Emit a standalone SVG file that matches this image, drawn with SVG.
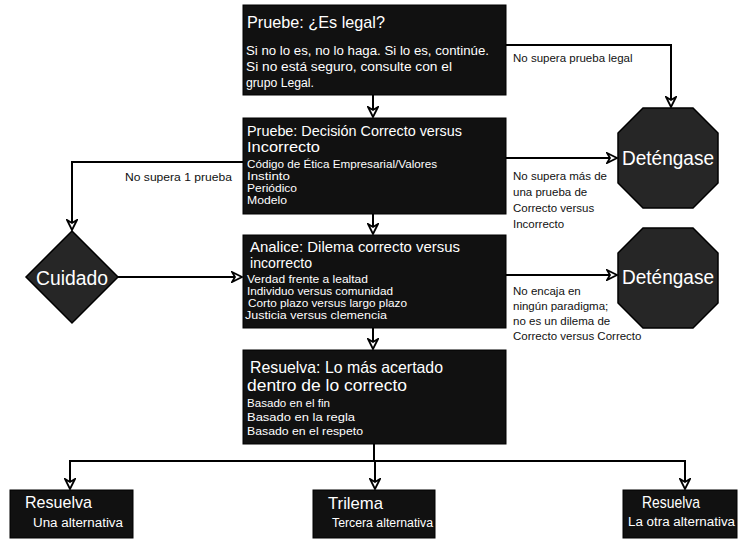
<svg xmlns="http://www.w3.org/2000/svg" width="738" height="540" viewBox="0 0 738 540">
<style>
.box{fill:#111;stroke:#000;stroke-width:1}
.sign{fill:#262626;stroke:#000;stroke-width:1.5}
.t{font-family:"Liberation Sans",Arial,sans-serif;fill:#fff}
.h{font-size:15px}
.hb{font-size:16.5px}
.s{font-size:10.5px}
.s1{font-size:12.5px}
.sw{font-size:20px}
.lab{font-family:"Liberation Sans",Arial,sans-serif;font-size:11.5px;fill:#111}
.c{fill:none;stroke:#000;stroke-width:2}
</style>
<defs>
<marker id="ah" viewBox="0 0 12 12" refX="11" refY="6" markerWidth="12" markerHeight="12" markerUnits="userSpaceOnUse" orient="auto">
<path d="M1,1 L11,6 L1,11 L4,6 Z" fill="#fff" stroke="#000" stroke-width="1.8"/>
</marker>
</defs>
<g id="connectors">
<line class="c" x1="373" y1="95" x2="373" y2="117" marker-end="url(#ah)"/>
<line class="c" x1="373" y1="214" x2="373" y2="234" marker-end="url(#ah)"/>
<line class="c" x1="373" y1="328" x2="373" y2="349" marker-end="url(#ah)"/>
<polyline class="c" points="506,45 671,45 671,107" marker-end="url(#ah)"/>
<line class="c" x1="506" y1="158" x2="617" y2="158" marker-end="url(#ah)"/>
<line class="c" x1="506" y1="275" x2="617" y2="275" marker-end="url(#ah)"/>
<polyline class="c" points="243,162 72,162 72,230" marker-end="url(#ah)"/>
<line class="c" x1="118" y1="277" x2="242" y2="277" marker-end="url(#ah)"/>
<line class="c" x1="374" y1="444" x2="374" y2="461"/>
<polyline class="c" points="70,461 685,461 685,489" marker-end="url(#ah)"/>
<line class="c" x1="70" y1="460" x2="70" y2="489" marker-end="url(#ah)"/>
<line class="c" x1="375" y1="461" x2="375" y2="489" marker-end="url(#ah)"/>
<text class="lab" x="513" y="62">No supera prueba legal</text>
<text class="lab" x="125" y="181" textLength="107" lengthAdjust="spacingAndGlyphs">No supera 1 prueba</text>
<text class="lab" x="513" y="180">No supera más de</text>
<text class="lab" x="513" y="196">una prueba de</text>
<text class="lab" x="513" y="212">Correcto versus</text>
<text class="lab" x="513" y="228">Incorrecto</text>
<text class="lab" x="513" y="295">No encaja en</text>
<text class="lab" x="513" y="310">ningún paradigma;</text>
<text class="lab" x="513" y="325">no es un dilema de</text>
<text class="lab" x="513" y="340">Correcto versus Correcto</text>
</g>
<g id="legal">
<rect class="box" x="243" y="5" width="263" height="90"/>
<text class="t" x="247" y="28" font-size="17" textLength="138" lengthAdjust="spacingAndGlyphs">Pruebe: ¿Es legal?</text>
<text class="t s1" x="246" y="55" textLength="243" lengthAdjust="spacingAndGlyphs">Si no lo es, no lo haga. Si lo es, continúe.</text>
<text class="t s1" x="246" y="71" textLength="206" lengthAdjust="spacingAndGlyphs">Si no está seguro, consulte con el</text>
<text class="t s1" x="246" y="87" textLength="68" lengthAdjust="spacingAndGlyphs">grupo Legal.</text>
</g>
<g id="prueba">
<rect class="box" x="243" y="118" width="263" height="96"/>
<text class="t h" x="247" y="136" textLength="215" lengthAdjust="spacingAndGlyphs">Pruebe: Decisión Correcto versus</text>
<text class="t h" x="247" y="152" textLength="73" lengthAdjust="spacingAndGlyphs">Incorrecto</text>
<text class="t s" x="247" y="168" textLength="190" lengthAdjust="spacingAndGlyphs">Código de Ética Empresarial/Valores</text>
<text class="t s" x="247" y="180" textLength="43" lengthAdjust="spacingAndGlyphs">Instinto</text>
<text class="t s" x="247" y="192" textLength="50" lengthAdjust="spacingAndGlyphs">Periódico</text>
<text class="t s" x="247" y="204" textLength="40" lengthAdjust="spacingAndGlyphs">Modelo</text>
</g>
<g id="analice">
<rect class="box" x="243" y="235" width="263" height="93"/>
<text class="t h" x="250" y="252" textLength="210" lengthAdjust="spacingAndGlyphs">Analice: Dilema correcto versus</text>
<text class="t h" x="250" y="268" textLength="62" lengthAdjust="spacingAndGlyphs">incorrecto</text>
<text class="t s" x="247" y="283" textLength="121" lengthAdjust="spacingAndGlyphs">Verdad frente a lealtad</text>
<text class="t s" x="247" y="295" textLength="146" lengthAdjust="spacingAndGlyphs">Individuo versus comunidad</text>
<text class="t s" x="248" y="307" textLength="159" lengthAdjust="spacingAndGlyphs">Corto plazo versus largo plazo</text>
<text class="t s" x="245" y="319" textLength="142" lengthAdjust="spacingAndGlyphs">Justicia versus clemencia</text>
</g>
<g id="resuelva-main">
<rect class="box" x="243" y="350" width="263" height="94"/>
<text class="t hb" x="250" y="373" textLength="193" lengthAdjust="spacingAndGlyphs">Resuelva: Lo más acertado</text>
<text class="t hb" x="247" y="391" textLength="160" lengthAdjust="spacingAndGlyphs">dentro de lo correcto</text>
<text class="t" x="247" y="407" font-size="11.5" textLength="83" lengthAdjust="spacingAndGlyphs">Basado en el fin</text>
<text class="t" x="247" y="421" font-size="11.5" textLength="108" lengthAdjust="spacingAndGlyphs">Basado en la regla</text>
<text class="t" x="247" y="435" font-size="11.5" textLength="116" lengthAdjust="spacingAndGlyphs">Basado en el respeto</text>
</g>
<g id="stop1">
<polygon class="sign" points="643,108 693,108 718,133 718,183 693,208 643,208 618,183 618,133"/>
<text class="t sw" x="668" y="165" text-anchor="middle" textLength="92" lengthAdjust="spacingAndGlyphs">Deténgase</text>
</g>
<g id="stop2">
<polygon class="sign" points="643,228 693,228 718,253 718,303 693,328 643,328 618,303 618,253"/>
<text class="t sw" x="668" y="284" text-anchor="middle" textLength="92" lengthAdjust="spacingAndGlyphs">Deténgase</text>
</g>
<g id="cuidado">
<polygon class="sign" points="72,231 118,277 72,323 26,277"/>
<text class="t sw" x="72" y="285" text-anchor="middle" textLength="72" lengthAdjust="spacingAndGlyphs">Cuidado</text>
</g>
<g id="resuelva-una">
<rect class="box" x="10" y="490" width="123" height="48"/>
<text class="t" x="25" y="508" font-size="17" textLength="67" lengthAdjust="spacingAndGlyphs">Resuelva</text>
<text class="t" x="33" y="527" font-size="12" textLength="90" lengthAdjust="spacingAndGlyphs">Una alternativa</text>
</g>
<g id="trilema">
<rect class="box" x="313" y="490" width="122" height="48"/>
<text class="t" x="328" y="509" font-size="17" textLength="55" lengthAdjust="spacingAndGlyphs">Trilema</text>
<text class="t" x="332" y="527" font-size="12" textLength="101" lengthAdjust="spacingAndGlyphs">Tercera alternativa</text>
</g>
<g id="resuelva-otra">
<rect class="box" x="623" y="490" width="114" height="48"/>
<text class="t" x="642" y="508" font-size="17" textLength="58" lengthAdjust="spacingAndGlyphs">Resuelva</text>
<text class="t" x="628" y="526" font-size="12" textLength="107" lengthAdjust="spacingAndGlyphs">La otra alternativa</text>
</g>
</svg>
